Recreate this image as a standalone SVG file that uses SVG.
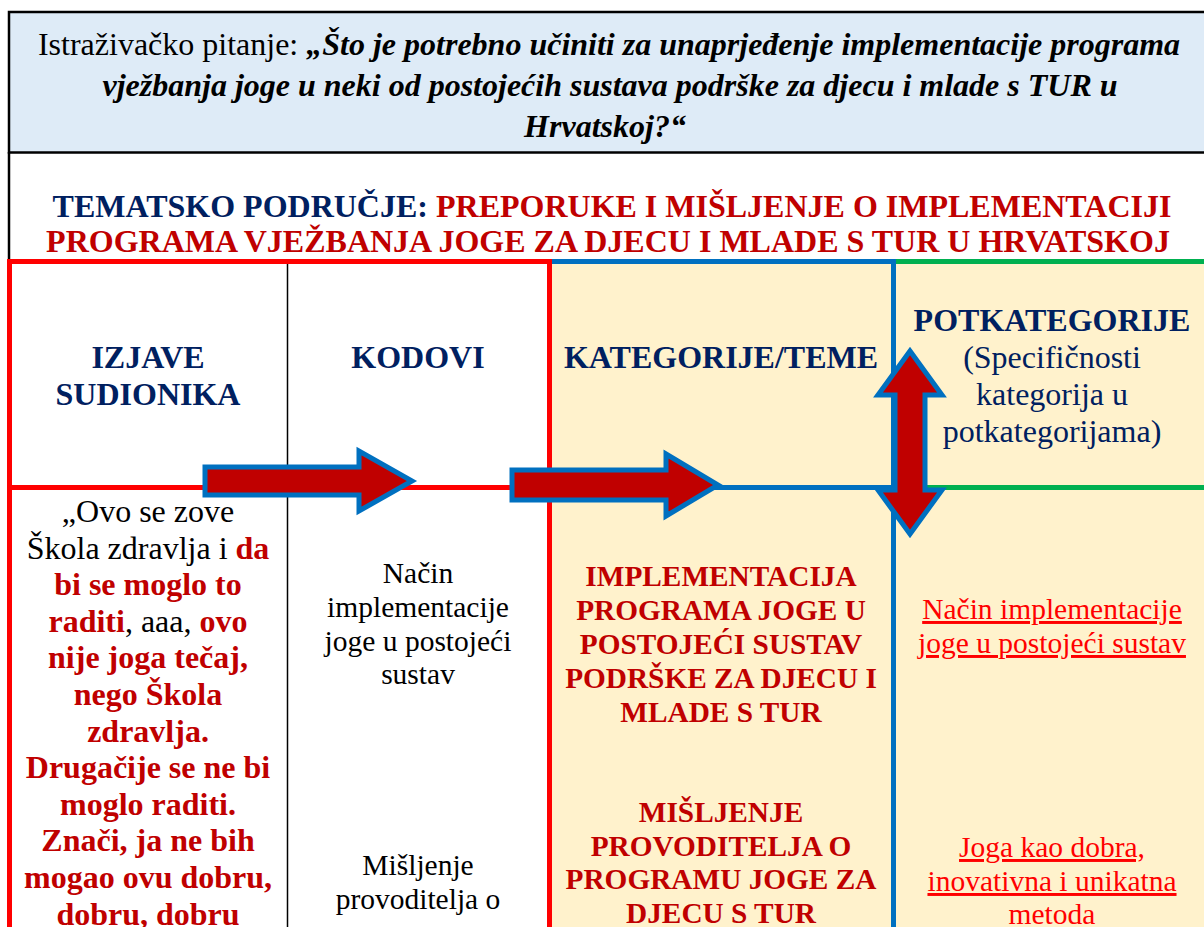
<svg xmlns="http://www.w3.org/2000/svg" width="1204" height="927" viewBox="0 0 1204 927">
<defs>
<style>
text{font-family:"Liberation Serif","Times New Roman",serif;text-anchor:middle}
.q{font-size:32px;fill:#000}
.bi{font-weight:bold;font-style:italic}
.t{font-size:32px;font-weight:bold}
.navy{fill:#002060}
.dred{fill:#C00000}
.h{font-size:32px;font-weight:bold;fill:#002060}
.hr{font-size:32px;fill:#002060}
.c1{font-size:32px;fill:#000}
.rb{font-weight:bold;fill:#C00000}
.c2{font-size:29.5px;fill:#000}
.c3{font-size:29.3px;font-weight:bold;fill:#C00000}
.c4{font-size:29.5px;fill:#FF0000}
.u{text-decoration:underline}
.arrow{fill:#C00000;stroke:#0070C0;stroke-width:5;stroke-linejoin:miter}
</style>
</defs>
<rect width="1204" height="927" fill="#fff"/>

<g id="question">
<rect x="9" y="12" width="1200" height="140.5" fill="#DEEBF7" stroke="#000" stroke-width="2.5"/>
<text class="q" x="609" y="55"><tspan>Istraživačko pitanje: </tspan><tspan class="bi">„Što je potrebno učiniti za unaprjeđenje implementacije programa</tspan></text>
<text class="q bi" x="610" y="96">vježbanja joge u neki od postojećih sustava podrške za djecu i mlade s TUR u</text>
<text class="q bi" x="605" y="137">Hrvatskoj?“</text>
</g>

<g id="theme">
<line x1="9" y1="152" x2="9" y2="262" stroke="#000" stroke-width="2.5"/>
<text class="t" x="612" y="217"><tspan class="navy">TEMATSKO PODRUČJE: </tspan><tspan class="dred">PREPORUKE I MIŠLJENJE O IMPLEMENTACIJI</tspan></text>
<text class="t dred" x="608" y="252">PROGRAMA VJEŽBANJA JOGE ZA DJECU I MLADE S TUR U HRVATSKOJ</text>
</g>

<g id="table-grid">
<rect x="552" y="264" width="339" height="663" fill="#FFF2CC"/>
<rect x="896" y="264" width="308" height="663" fill="#FFF2CC"/>
<line x1="287.5" y1="264" x2="287.5" y2="927" stroke="#000" stroke-width="1.5"/>
<g stroke="#FF0000" stroke-width="5" fill="none">
<line x1="7" y1="261.5" x2="552" y2="261.5"/>
<line x1="9.5" y1="259" x2="9.5" y2="927"/>
<line x1="549.5" y1="259" x2="549.5" y2="927"/>
<line x1="9.5" y1="487.5" x2="549.5" y2="487.5"/>
</g>
<g stroke="#0070C0" stroke-width="5" fill="none">
<line x1="552" y1="261.5" x2="896" y2="261.5"/>
<line x1="893.5" y1="259" x2="893.5" y2="927"/>
<line x1="552" y1="487.5" x2="893.5" y2="487.5"/>
</g>
<g stroke="#00B050" stroke-width="5" fill="none">
<line x1="896" y1="261.5" x2="1204" y2="261.5"/>
<line x1="896" y1="487.5" x2="1204" y2="487.5"/>
</g>
</g>

<g id="col-izjave">
<text class="h" x="148" y="368">IZJAVE</text>
<text class="h" x="148" y="405">SUDIONIKA</text>
<text class="c1" x="148" y="522">„Ovo se zove</text>
<text class="c1" x="148" y="558.6"><tspan>Škola zdravlja i </tspan><tspan class="rb">da</tspan></text>
<text class="c1 rb" x="148" y="595.2">bi se moglo to</text>
<text class="c1" x="148" y="631.8"><tspan class="rb">raditi</tspan><tspan>, aaa, </tspan><tspan class="rb">ovo</tspan></text>
<text class="c1 rb" x="148" y="668.4">nije joga tečaj,</text>
<text class="c1 rb" x="148" y="705">nego Škola</text>
<text class="c1 rb" x="148" y="741.6">zdravlja.</text>
<text class="c1 rb" x="148" y="778.2">Drugačije se ne bi</text>
<text class="c1 rb" x="148" y="814.8">moglo raditi.</text>
<text class="c1 rb" x="148" y="851.4">Znači, ja ne bih</text>
<text class="c1 rb" x="148" y="888">mogao ovu dobru,</text>
<text class="c1 rb" x="148" y="924.6">dobru, dobru</text>
</g>

<g id="col-kodovi">
<text class="h" x="418" y="368">KODOVI</text>
<text class="c2" x="418" y="583">Način</text>
<text class="c2" x="418" y="617">implementacije</text>
<text class="c2" x="418" y="650.5">joge u postojeći</text>
<text class="c2" x="418" y="684">sustav</text>
<text class="c2" x="418" y="875">Mišljenje</text>
<text class="c2" x="418" y="908.5">provoditelja o</text>
</g>

<g id="col-kategorije">
<text class="h" x="721" y="368">KATEGORIJE/TEME</text>
<text class="c3" x="721" y="586">IMPLEMENTACIJA</text>
<text class="c3" x="721" y="620">PROGRAMA JOGE U</text>
<text class="c3" x="721" y="654">POSTOJEĆI SUSTAV</text>
<text class="c3" x="721" y="688">PODRŠKE ZA DJECU I</text>
<text class="c3" x="721" y="722">MLADE S TUR</text>
<text class="c3" x="721" y="822">MIŠLJENJE</text>
<text class="c3" x="721" y="855.5">PROVODITELJA O</text>
<text class="c3" x="721" y="889">PROGRAMU JOGE ZA</text>
<text class="c3" x="721" y="923">DJECU S TUR</text>
</g>

<g id="col-potkategorije">
<text class="h" x="1052" y="331">POTKATEGORIJE</text>
<text class="hr" x="1052" y="368">(Specifičnosti</text>
<text class="hr" x="1052" y="405">kategorija u</text>
<text class="hr" x="1052" y="442">potkategorijama)</text>
<text class="c4 u" x="1052" y="619">Način implementacije</text>
<text class="c4 u" x="1052" y="653">joge u postojeći sustav</text>
<text class="c4 u" x="1052" y="857">Joga kao dobra,</text>
<text class="c4 u" x="1052" y="891">inovativna i unikatna</text>
<text class="c4" x="1052" y="924">metoda</text>
</g>

<g id="connectors">
<path class="arrow" d="M205,467 L359,467 L359,451 L412,481 L359,511 L359,495 L205,495 Z"/>
<path class="arrow" d="M512,470 L666,470 L666,454 L718,485 L666,516 L666,500 L512,500 Z"/>
<path class="arrow" d="M910,351 L942,395 L925,395 L925,490 L942,490 L910,534 L878,490 L895,490 L895,395 L878,395 Z"/>
</g>
</svg>
